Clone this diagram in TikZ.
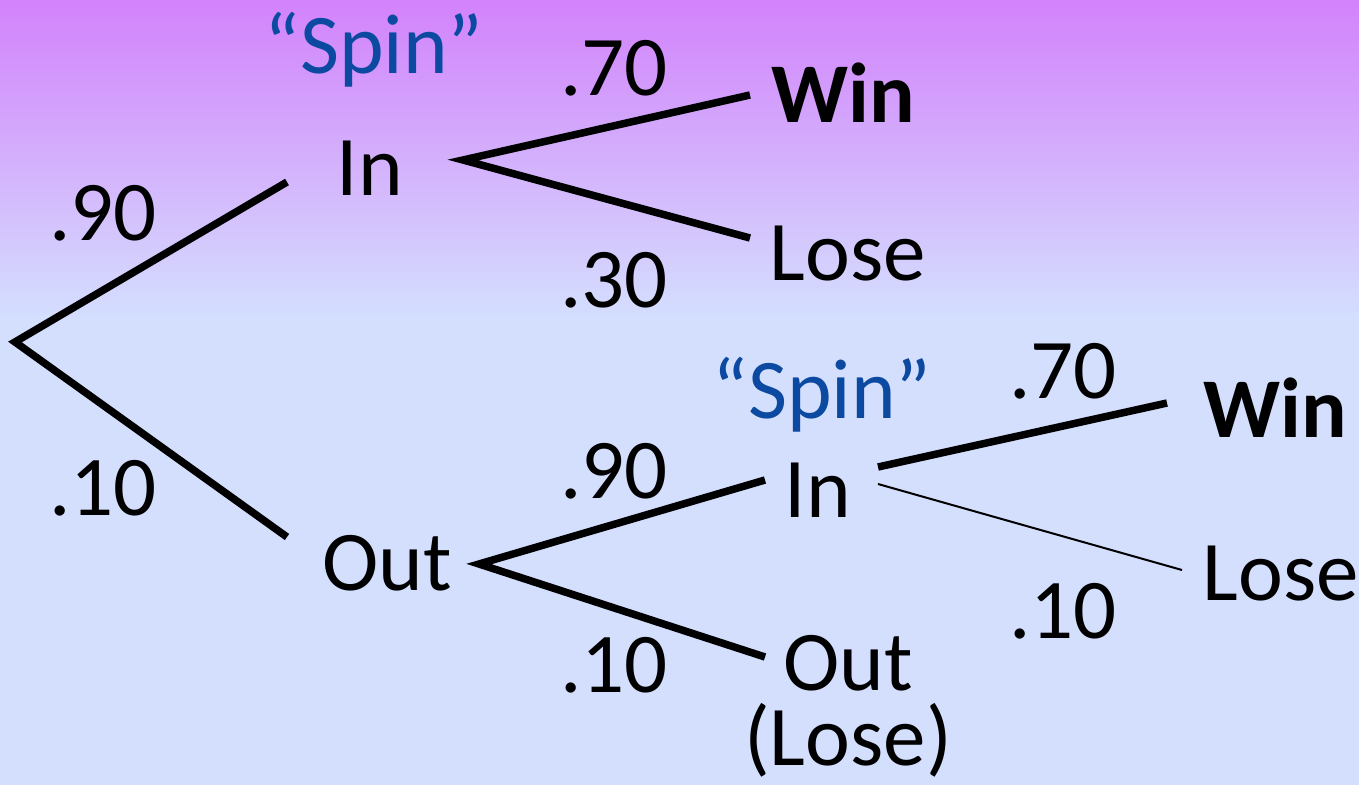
\documentclass[tikz,border=0pt]{standalone}
\usepackage{fontspec}
\setmainfont{Carlito}
\definecolor{bgtop}{RGB}{211,130,251}
\definecolor{bgbot}{RGB}{212,223,254}
\definecolor{spinblue}{RGB}{12,74,162}
\begin{document}
\begin{tikzpicture}[x=1pt,y=-1pt,
  lbl/.style={anchor=base,inner sep=0pt,font=\fontsize{85}{100}\selectfont},
  spinlbl/.style={lbl,text=spinblue},
  winlbl/.style={lbl,font=\fontsize{85}{100}\selectfont\bfseries},
  thickbranch/.style={line width=7.5pt,black},
  thinbranch/.style={line width=2pt,black}]
\useasboundingbox (0,0) rectangle (1359,785);
\shade[top color=bgtop,bottom color=bgbot] (0,0) rectangle (1359,320);
\fill[bgbot] (0,319) rectangle (1359,785);
% labels
\node[spinlbl] (spin1) at (374,73) {“Spin”};
\node[lbl] (in1) at (370,195) {In};
\node[lbl] (p90a) at (103,240) {.90};
\node[lbl] (p10a) at (103,515) {.10};
\node[lbl] (p70a) at (614,95) {.70};
\node[lbl] (p30a) at (614,307) {.30};
\node[winlbl] (win1) at (843,122) {Win};
\node[lbl] (lose1) at (848,280) {Lose};
\node[lbl] (out1) at (387,590) {Out};
\node[lbl] (p90b) at (614,498) {.90};
\node[lbl] (p10b) at (614,692) {.10};
\node[spinlbl] (spin2) at (822,418) {“Spin”};
\node[lbl] (in2) at (818,517) {In};
\node[lbl] (p70b) at (1063,398) {.70};
\node[lbl] (p10c) at (1063,638) {.10};
\node[winlbl] (win2) at (1275,437) {Win};
\node[lbl] (lose2) at (1281,600) {Lose};
\node[lbl,align=center,anchor=north,font=\fontsize{85}{75}\selectfont] (out2) at (848,635) {Out\\(Lose)};
% connector end points
\coordinate (root) at (15,342);
\coordinate (in1w) at (287,182);
\coordinate (out1w) at (287,537);
\coordinate (in1e) at (463,160);
\coordinate (win1w) at (750,95);
\coordinate (lose1w) at (750,238);
\coordinate (out1e) at (479,564);
\coordinate (in2w) at (765,480);
\coordinate (out2w) at (765,657);
\coordinate (in2ea) at (878,467);
\coordinate (in2eb) at (878,484);
\coordinate (win2w) at (1167,403);
\coordinate (lose2w) at (1182,570);
% connectors
\draw[thickbranch] (in1w) -- (root) -- (out1w);
\draw[thickbranch] (win1w) -- (in1e) -- (lose1w);
\draw[thickbranch] (in2w) -- (out1e) -- (out2w);
\draw[thickbranch] (in2ea) -- (win2w);
\draw[thinbranch] (in2eb) -- (lose2w);
\end{tikzpicture}
\end{document}
